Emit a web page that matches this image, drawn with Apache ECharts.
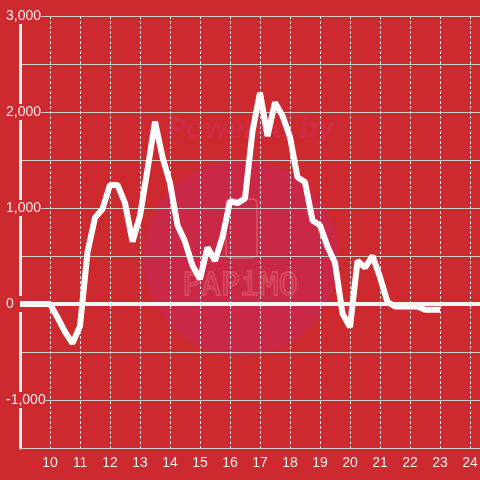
<!DOCTYPE html>
<html>
<head>
<meta charset="utf-8">
<script src="https://cdn.jsdelivr.net/npm/echarts@6/dist/echarts.min.js"></script>
<style>
  html, body { margin: 0; padding: 0; background: #cd2a2f; }
  #chart { width: 480px; height: 480px; }
</style>
</head>
<body>
<div id="chart"></div>
<script>
  // hours (every 15 min) and values
  const HOURS = [
    9, 9.25, 9.5, 9.75, 10, 10.25, 10.5, 10.75, 11, 11.25, 11.5, 11.75,
    12, 12.25, 12.5, 12.75, 13, 13.25, 13.5, 13.75, 14, 14.25, 14.5, 14.75,
    15, 15.25, 15.5, 15.75, 16, 16.25, 16.5, 16.75, 17, 17.25, 17.5, 17.75,
    18, 18.25, 18.5, 18.75, 19, 19.25, 19.5, 19.75, 20, 20.25, 20.5, 20.75,
    21, 21.25, 21.5, 21.75, 22, 22.25, 22.5, 22.75, 23
  ]
  const VALUES = [
    0, 0, 0, 0, 0, -140, -290, -410, -230, 540, 900, 990,
    1240, 1240, 1050, 650, 920, 1400, 1900, 1530, 1260, 820, 650, 400,
    260, 590, 450, 700, 1070, 1050, 1100, 1800, 2200, 1750, 2100, 1960,
    1740, 1320, 1270, 870, 820, 600, 430, -100, -240, 450, 380, 500,
    280, 20, -25, -25, -25, -25, -60, -60, -60
  ]
  const Y_MIN = -1500
  const Y_MAX = 3000
  const X_MIN = 9
  const X_MAX = 25

  const BG = '#cd2a2f'

  const chart = echarts.init(document.getElementById('chart'))
  chart.setOption({
    backgroundColor: BG,
    animation: false,
    textStyle: { fontFamily: 'Liberation Sans, Arial, sans-serif' },
    // plot runs past the right edge of the canvas
    grid: {
      left: 20, top: 16, width: 480, height: 432,
      containLabel: false,
      outerBoundsMode: 'none'
    },
    graphic: [
      // watermark
      {
        type: 'circle', z: -10, silent: true,
        shape: { cx: 241, cy: 258, r: 98 },
        style: { fill: '#c92847' }
      },
      {
        type: 'text', z: -10, silent: true,
        x: 250, y: 130,
        style: {
          text: 'Powered by', fill: '#cf2b45',
          font: 'italic bold 30px Liberation Sans, Arial, sans-serif',
          align: 'center', verticalAlign: 'middle'
        }
      },
      {
        type: 'rect', z: -9, silent: true,
        shape: { x: 226, y: 199, width: 31, height: 59, r: 4 },
        style: { fill: 'none', stroke: '#d5475c', lineWidth: 2 }
      },
      {
        type: 'text', z: -9, silent: true,
        x: 240, y: 287,
        style: {
          text: 'PAPiMO', fill: 'none', stroke: '#d5475c', lineWidth: 2,
          font: '32px DejaVu Sans Mono, monospace',
          align: 'center', verticalAlign: 'middle'
        }
      }
    ],
    xAxis: {
      type: 'value',
      min: X_MIN,
      max: X_MAX,
      interval: 1,
      axisLine: { onZero: false, lineStyle: { color: '#cccccc', width: 1 } },
      axisTick: { show: false },
      axisLabel: {
        showMinLabel: false,
        color: '#eeeeee',
        fontSize: 14,
        margin: 8
      },
      splitLine: {
        show: true,
        lineStyle: { color: '#dddddd', width: 1, type: [3, 2] }
      }
    },
    yAxis: {
      type: 'value',
      min: Y_MIN,
      max: Y_MAX,
      interval: 500,
      axisLine: { show: true, onZero: false, lineStyle: { color: '#eeeeee', width: 3 } },
      axisTick: { show: false },
      axisLabel: {
        color: '#eeeeee',
        fontSize: 14,
        margin: 14,
        align: 'left',
        backgroundColor: BG,
        padding: [1, 0, 1, 0],
        formatter: function (v) {
          if (v % 1000 !== 0 || v === Y_MIN) return ''
          if (v === 0) return '{z|0}'
          return v.toLocaleString('en-US')
        },
        rich: {
          z: { color: '#eeeeee', fontSize: 14, padding: [0, 9, 0, 0] }
        }
      },
      splitLine: {
        show: true,
        lineStyle: { color: '#cccccc', width: 1 }
      }
    },
    series: [
      {
        type: 'line',
        data: HOURS.map((h, i) => [h, VALUES[i]]),
        showSymbol: false,
        symbol: 'none',
        lineStyle: { color: '#ffffff', width: 6 },
        z: 3,
        markLine: {
          silent: true,
          symbol: 'none',
          label: { show: false },
          lineStyle: { color: '#f5f5f5', width: 4, type: 'solid' },
          data: [{ yAxis: 0 }]
        }
      }
    ]
  })
</script>
</body>
</html>
